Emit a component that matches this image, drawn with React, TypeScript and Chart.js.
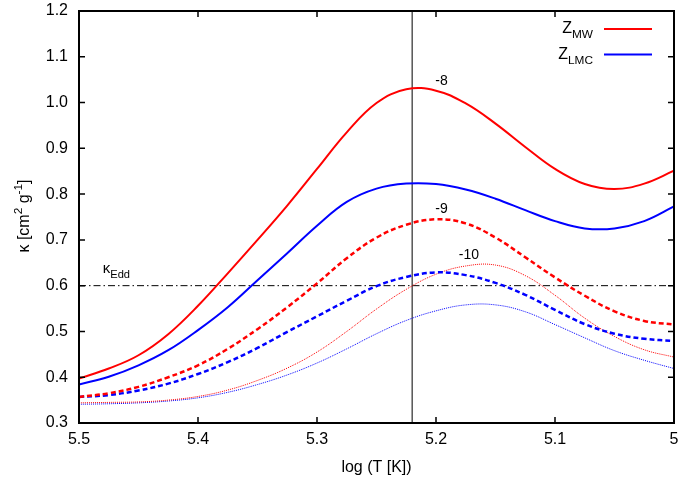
import React, { useEffect, useRef } from "react";
import { Chart, registerables } from "chart.js";

Chart.register(...registerables);

// ---- data ----
const LOG_T = [5.5, 5.475, 5.45, 5.425, 5.4, 5.375, 5.35, 5.325, 5.3, 5.275, 5.25, 5.225, 5.2, 5.175, 5.15, 5.125, 5.1, 5.075, 5.05, 5.025, 5.0];

const MW_8 = [0.397, 0.419, 0.448, 0.494, 0.556, 0.627, 0.7, 0.775, 0.855, 0.935, 0.999, 1.029, 1.026, 0.998, 0.954, 0.903, 0.855, 0.822, 0.811, 0.823, 0.851];
const LMC_8 = [0.384, 0.401, 0.426, 0.459, 0.503, 0.553, 0.612, 0.671, 0.731, 0.783, 0.812, 0.823, 0.822, 0.81, 0.79, 0.765, 0.741, 0.725, 0.725, 0.741, 0.773];
const MW_9 = [0.357, 0.365, 0.379, 0.4, 0.426, 0.462, 0.505, 0.553, 0.605, 0.66, 0.705, 0.733, 0.745, 0.736, 0.705, 0.662, 0.618, 0.578, 0.544, 0.523, 0.515];
const LMC_9 = [0.357, 0.361, 0.371, 0.386, 0.407, 0.433, 0.464, 0.499, 0.533, 0.567, 0.599, 0.619, 0.629, 0.623, 0.606, 0.58, 0.547, 0.516, 0.495, 0.484, 0.479];
const MW_10 = [0.344, 0.345, 0.346, 0.35, 0.358, 0.372, 0.393, 0.42, 0.455, 0.5, 0.549, 0.592, 0.625, 0.643, 0.645, 0.622, 0.579, 0.529, 0.489, 0.46, 0.444];
const LMC_10 = [0.341, 0.342, 0.344, 0.348, 0.355, 0.367, 0.384, 0.405, 0.431, 0.462, 0.495, 0.524, 0.545, 0.558, 0.558, 0.543, 0.515, 0.486, 0.458, 0.437, 0.419];

const KAPPA_EDD = 0.6;
const T_MARK = 5.22;

const X_RANGE = [5.5, 5.0];
const Y_RANGE = [0.3, 1.2];

// annotation labels: [text, logT, kappa]
const CURVE_LABELS: [string, number, number][] = [
  ["-8", 5.1954, 1.047],
  ["-9", 5.1954, 0.768],
  ["-10", 5.1723, 0.667],
];
const EDD_LABEL_POS = [5.48, 0.627];

const LEGEND_ITEMS = [
  { main: "Z", sub: "MW", color: "#ff0000" },
  { main: "Z", sub: "LMC", color: "#0000ff" },
];

const FAMILY = '"Liberation Sans", Arial, Helvetica, sans-serif';

type Part = { t: string; s: "n" | "sub" | "sup" };

function drawRich(ctx: CanvasRenderingContext2D, parts: Part[], x: number, y: number, align: "left" | "center" | "right", size: number, color: string) {
  let total = 0;
  const ms = parts.map((p) => {
    const fs = p.s === "n" ? size : size * 0.74;
    ctx.font = `${fs}px ${FAMILY}`;
    const w = ctx.measureText(p.t).width;
    total += w;
    return { w, fs };
  });
  let cx = align === "right" ? x - total : align === "center" ? x - total / 2 : x;
  ctx.textBaseline = "alphabetic";
  ctx.textAlign = "left";
  ctx.fillStyle = color;
  parts.forEach((p, i) => {
    ctx.font = `${ms[i].fs}px ${FAMILY}`;
    const dy = p.s === "sub" ? size * 0.32 : p.s === "sup" ? -size * 0.42 : 0;
    ctx.fillText(p.t, cx, y + dy);
    cx += ms[i].w;
  });
}

const pts = (arr: number[]) => LOG_T.map((x, i) => ({ x, y: arr[i] }));

const decorPlugin = {
  id: "decor",
  afterDatasetsDraw(chart: any) {
    const ctx: CanvasRenderingContext2D = chart.ctx;
    const { left, right, top, bottom } = chart.chartArea;
    const xs = chart.scales.x;
    const ys = chart.scales.y;
    ctx.save();
    // frame
    ctx.strokeStyle = "#000";
    ctx.lineWidth = 2;
    ctx.setLineDash([]);
    ctx.strokeRect(left, top, right - left, bottom - top);
    // inward ticks
    const tl = 6;
    ctx.lineWidth = 1.5;
    ctx.beginPath();
    xs.ticks.forEach((t: any) => {
      const px = xs.getPixelForValue(t.value);
      ctx.moveTo(px, bottom);
      ctx.lineTo(px, bottom - tl);
      ctx.moveTo(px, top);
      ctx.lineTo(px, top + tl);
    });
    ys.ticks.forEach((t: any) => {
      const py = ys.getPixelForValue(t.value);
      ctx.moveTo(left, py);
      ctx.lineTo(left + tl, py);
      ctx.moveTo(right, py);
      ctx.lineTo(right - tl, py);
    });
    ctx.stroke();

    // curve labels
    ctx.fillStyle = "#000";
    ctx.font = `14px ${FAMILY}`;
    ctx.textAlign = "center";
    ctx.textBaseline = "middle";
    CURVE_LABELS.forEach(([txt, x, y]) => {
      ctx.fillText(txt, xs.getPixelForValue(x), ys.getPixelForValue(y));
    });

    // kappa_Edd label
    drawRich(ctx, [{ t: "κ", s: "n" }, { t: "Edd", s: "sub" }], xs.getPixelForValue(EDD_LABEL_POS[0]), ys.getPixelForValue(EDD_LABEL_POS[1]), "left", 15, "#000");

    // legend
    LEGEND_ITEMS.forEach((it, i) => {
      const by = 33 + i * 25.5;
      drawRich(ctx, [{ t: it.main, s: "n" }, { t: it.sub, s: "sub" }], 593, by, "right", 16, "#000");
      ctx.strokeStyle = it.color;
      ctx.lineWidth = 2;
      ctx.beginPath();
      ctx.moveTo(604, by - 4);
      ctx.lineTo(652, by - 4);
      ctx.stroke();
    });

    // axis titles
    ctx.save();
    ctx.translate(29, 216);
    ctx.rotate(-Math.PI / 2);
    drawRich(ctx, [{ t: "κ [cm", s: "n" }, { t: "2", s: "sup" }, { t: " g", s: "n" }, { t: "-1", s: "sup" }, { t: "]", s: "n" }], 0, 0, "center", 16, "#000");
    ctx.restore();
    drawRich(ctx, [{ t: "log (T [K])", s: "n" }], (left + right) / 2, 472, "center", 16, "#000");
    ctx.restore();
  },
};

export default function App() {
  const ref = useRef<HTMLCanvasElement>(null);
  useEffect(() => {
    if (!ref.current) return;
    const solid = { borderWidth: 2, pointRadius: 0, tension: 0.4 };
    const dashed = { borderWidth: 2.5, borderDash: [5, 3], pointRadius: 0, tension: 0.4 };
    const dotted = { borderWidth: 1, borderDash: [1, 1], pointRadius: 0, tension: 0.4 };
    const chart = new Chart(ref.current, {
      type: "line",
      data: {
        datasets: [
          { label: "MW -8", data: pts(MW_8), borderColor: "#ff0000", ...solid },
          { label: "LMC -8", data: pts(LMC_8), borderColor: "#0000ff", ...solid },
          { label: "MW -9", data: pts(MW_9), borderColor: "#ff0000", ...dashed },
          { label: "LMC -9", data: pts(LMC_9), borderColor: "#0000ff", ...dashed },
          { label: "MW -10", data: pts(MW_10), borderColor: "#ff0000", ...dotted },
          { label: "LMC -10", data: pts(LMC_10), borderColor: "#0000ff", ...dotted },
          {
            label: "Eddington",
            data: X_RANGE.map((x) => ({ x, y: KAPPA_EDD })),
            borderColor: "#000",
            borderWidth: 1,
            borderDash: [7, 3, 1.5, 3],
            pointRadius: 0,
          },
          {
            label: "mark",
            data: Y_RANGE.map((y) => ({ x: T_MARK, y })),
            borderColor: "#555",
            borderWidth: 1.5,
            pointRadius: 0,
          },
        ],
      },
      options: {
        responsive: false,
        animation: false,
        devicePixelRatio: 1,
        layout: { padding: { left: 0, right: 7, top: 11, bottom: 0 } },
        plugins: { legend: { display: false }, tooltip: { enabled: false } },
        scales: {
          x: {
            type: "linear",
            reverse: true,
            min: 5.0,
            max: 5.5,
            grid: { display: false, drawTicks: false },
            border: { display: false },
            ticks: {
              stepSize: 0.1,
              padding: 7,
              color: "#000",
              font: { family: FAMILY, size: 16 },
              maxRotation: 0,
              callback: (v: any) => String(Number(Number(v).toFixed(1))),
            },
            afterFit: (s: any) => {
              s.height = 61;
              s.paddingLeft = 0;
              s.paddingRight = 0;
            },
          },
          y: {
            type: "linear",
            min: 0.3,
            max: 1.2,
            grid: { display: false, drawTicks: false },
            border: { display: false },
            ticks: {
              stepSize: 0.1,
              padding: 11,
              color: "#000",
              font: { family: FAMILY, size: 16 },
              callback: (v: any) => Number(v).toFixed(1),
            },
            afterFit: (s: any) => {
              s.width = 79;
              s.paddingTop = 0;
              s.paddingBottom = 0;
            },
          },
        },
      },
      plugins: [decorPlugin],
    });
    return () => chart.destroy();
  }, []);
  return (
    <div style={{ position: "absolute", left: 0, top: 0, width: 681, height: 484, background: "#fff" }}>
      <canvas ref={ref} width={681} height={484} />
    </div>
  );
}
